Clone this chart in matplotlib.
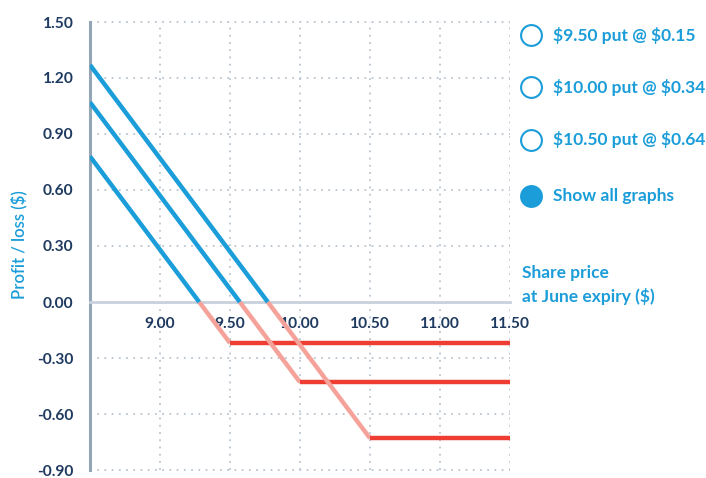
import matplotlib.pyplot as plt
import numpy as np
from matplotlib.lines import Line2D

# data
strikes = [9.50, 10.00, 10.50]
premiums = [0.22, 0.43, 0.73]  # cost as drawn (max loss)
legend_labels = ['$9.50 put @ $0.15', '$10.00 put @ $0.34', '$10.50 put @ $0.64']
show_all_label = 'Show all graphs'
x_ticks = [9.00, 9.50, 10.00, 10.50, 11.00, 11.50]
y_ticks = [-0.90, -0.60, -0.30, 0.00, 0.30, 0.60, 0.90, 1.20, 1.50]
x_min, x_max = 8.5, 11.5

blue = '#1b9dd9'
pink = '#f5a29b'
red = '#ee3e33'
navy = '#1e3a60'
grid_c = '#b9c5d1'

plt.rcParams['font.family'] = ['Lato', 'DejaVu Sans']

fig = plt.figure(figsize=(7.06, 4.78), dpi=100)
ax = fig.add_axes([90 / 706, 1 - 470 / 478, 420 / 706, 448 / 478])

# payoff segments for each long put
for k, p in zip(strikes, premiums):
    be = k - p
    ax.plot([x_min, be], [k - x_min - p, 0], color=blue, lw=3.2, solid_capstyle='butt', zorder=4)
    ax.plot([be, k], [0, -p], color=pink, lw=3.2, solid_capstyle='butt', zorder=3)
    ax.plot([k, x_max], [-p, -p], color=red, lw=3.2, solid_capstyle='butt', zorder=3)

ax.set_xlim(x_min, x_max)
ax.set_ylim(-0.9, 1.5)

# dotted grid
for yv in y_ticks:
    if yv != 0:
        ax.axhline(yv, color=grid_c, lw=1.3, ls=(0, (1, 3)), zorder=1, clip_on=False)
for xv in x_ticks:
    ax.axvline(xv, color=grid_c, lw=1.3, ls=(0, (1, 3)), zorder=1)

for s in ['top', 'right']:
    ax.spines[s].set_visible(False)
ax.spines['bottom'].set_position(('data', 0))
ax.spines['bottom'].set_color('#c8d2dc')
ax.spines['bottom'].set_linewidth(2)
ax.spines['left'].set_color('#93a6b8')
ax.spines['left'].set_linewidth(2.2)

ax.set_xticks(x_ticks)
ax.set_xticklabels([f'{v:.2f}' for v in x_ticks])
ax.set_yticks(y_ticks)
ax.set_yticklabels([f'{v:.2f}' for v in y_ticks])
ax.tick_params(length=0, labelsize=11.2, labelcolor=navy)
ax.tick_params(axis='x', pad=11)
ax.tick_params(axis='y', pad=12)
for lbl in ax.get_xticklabels() + ax.get_yticklabels():
    lbl.set_fontweight('bold')

fig.text(19 / 706, 1 - 245 / 478, 'Profit / loss (\\$)', color=blue, fontsize=12,
         fontweight='semibold', rotation=90, va='center', ha='center')

fig.text(522 / 706, 1 - 285 / 478, 'Share price\nat June expiry (\\$)', color=blue,
         fontsize=12.5, fontweight='bold', va='center', ha='left', linespacing=1.45)

# legend-like buttons on the right
legend_y = [35, 87, 140, 196]
labels = legend_labels + [show_all_label]
for i, (yy, txt) in enumerate(zip(legend_y, labels)):
    yf = 1 - yy / 478
    filled = i == len(labels) - 1
    fig.add_artist(Line2D([531 / 706], [yf], marker='o', markersize=15,
                          markerfacecolor=blue if filled else 'white',
                          markeredgecolor=blue, markeredgewidth=1.5,
                          transform=fig.transFigure))
    fig.text(553 / 706, yf, txt.replace('$', '\\$'), color=blue, fontsize=12.5,
             fontweight='bold', va='center', ha='left')

fig.savefig('out.png', dpi=100)
